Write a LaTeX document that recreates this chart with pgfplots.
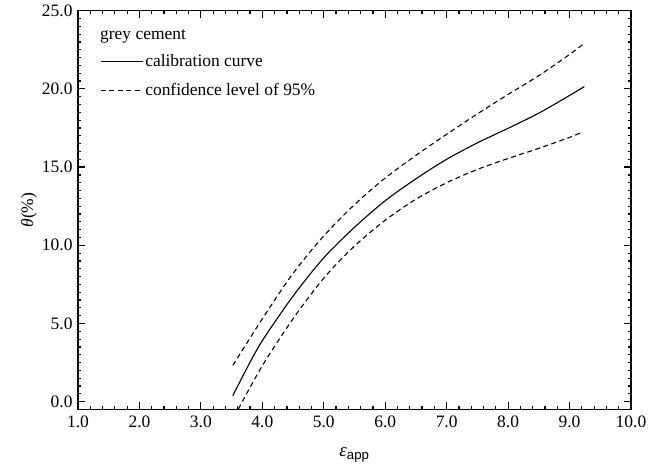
\documentclass[border=0pt]{standalone}
\usepackage{fontspec}
\setmainfont{Liberation Serif}
\setsansfont{Liberation Sans}
\usepackage{pgfplots}
\pgfplotsset{compat=1.18}

\begin{document}
\begin{tikzpicture}
\useasboundingbox (-78bp,-64.5bp) rectangle (584bp,409.5bp);
\begin{axis}[
  scale only axis, width=553bp, height=398.8bp,
  xmin=1, xmax=10, ymin=-0.5, ymax=25,
  xtick={1,2,...,10}, ytick={0,5,...,25},
  minor x tick num=4, minor y tick num=9,
  tick align=inside,
  major tick length=7bp, minor tick length=3.5bp,
  axis line style={line width=1.5bp},
  every tick/.style={line width=1.2bp, black},
  tick label style={font=\fontsize{17.5}{19}\selectfont},
  /pgf/number format/.cd, fixed, fixed zerofill, precision=1, assume math mode=true,
  /pgfplots/.cd,
  xticklabel style={yshift=-3bp},
  yticklabel style={xshift=-2bp},
  every axis x label/.style={at={(axis description cs:0.5,-0.114)}, anchor=center,
    font=\fontsize{19}{21}\selectfont},
  every axis y label/.style={at={(axis description cs:-0.0886,0.5)}, rotate=90, anchor=center,
    font=\fontsize{17.5}{19}\selectfont},
  xlabel={{\itshape ε}\textsubscript{\sffamily app}},
  ylabel={{\itshape θ}(\%)},
  legend style={at={(axis description cs:0.0398,0.895)}, anchor=north west,
    draw=none, fill=none, inner sep=0pt, row sep=11bp,
    font=\fontsize{17.5}{19}\selectfont,
    /tikz/every even column/.append style={column sep=6bp}},
  legend cell align=left,
  legend image code/.code={\draw[#1] (0bp,0bp) -- (42bp,0bp);},
]
\node[anchor=west, inner sep=0pt, font=\fontsize{17.5}{19}\selectfont] at (axis description cs:0.0398,0.935) {grey cement};

% calibration curve
\addplot[black, line width=1.1bp, smooth] coordinates {
  (3.52,0.38) (3.75,2.15) (4.0,3.9) (4.5,6.75) (5.0,9.2) (5.5,11.15) (6.0,12.85)
  (6.5,14.25) (7.0,15.5) (7.5,16.55) (8.0,17.48) (8.5,18.45) (9.0,19.58) (9.24,20.15)};
\addlegendentry{calibration curve}

% 95% bounds
\addplot[black, line width=1.1bp, dash pattern=on 5bp off 3.5bp, smooth] coordinates {
  (3.52,2.32) (4.0,5.3) (4.5,8.2) (5.0,10.6) (5.5,12.6) (6.0,14.3) (6.5,15.75)
  (7.0,17.1) (7.5,18.4) (8.0,19.65) (8.5,20.85) (9.0,22.2) (9.25,22.95)};
\addlegendentry{confidence level of 95\%}

\addplot[black, line width=1.1bp, dash pattern=on 5bp off 3.5bp, smooth, forget plot] coordinates {
  (3.61,-0.47) (4.0,2.3) (4.5,5.3) (5.0,7.9) (5.5,9.95) (6.0,11.6) (6.5,12.95)
  (7.0,14.0) (7.5,14.85) (8.0,15.55) (8.5,16.2) (9.0,16.9) (9.21,17.25)};
\end{axis}
\end{tikzpicture}
\end{document}
